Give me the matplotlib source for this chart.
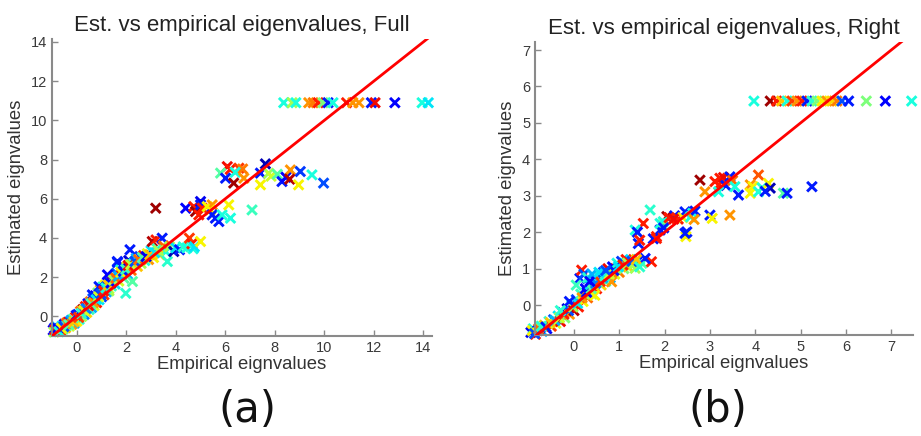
import numpy as np
import matplotlib
matplotlib.use("Agg")
import matplotlib.pyplot as plt

# panel (a): full model -- empirical vs estimated eigenvalues, colour = jet index
full_emp = [
    8.36, 8.70, 8.85, 9.37, 9.55, 9.75, 9.95, 10.15, 10.35, 10.90, 11.15, 11.40, 11.90, 12.05, 12.85, 13.95, 14.20,
    6.08, 6.20, 6.55, 6.70, 5.81, 6.01, 6.34, 6.40, 6.75, 7.62, 7.42, 7.42, 7.75, 7.85, 8.10, 8.29, 8.45, 8.63, 8.60,
    8.96, 9.03, 9.50, 9.97,
    3.19, 4.40, 4.73, 4.80, 5.00, 5.00, 5.07, 4.93, 5.27, 5.47, 5.40, 5.47, 5.60, 5.74, 5.87, 6.14, 6.21, 7.08,
    -0.95, -0.90, -0.85, -0.80, -0.75, -0.70, -0.65, -0.60, -0.55, -0.50, -0.45, -0.40, -0.35, -0.30, -0.25, -0.20,
    -0.15, -0.10, -0.05, 0.00, 0.05, 0.10, 0.15, 0.20, 0.25, 0.30, 0.35, 0.40, 0.45, 0.50, 0.55, 0.60, 0.65, 0.70,
    0.75, 0.80, 0.85, 0.90, 0.95, 1.00, 1.05, 1.10, 1.15, 1.20, 1.25, 1.30, 1.35, 1.40, 1.50, 1.55, 1.60, 1.65,
    1.70, 1.75, 1.80, 1.85, 1.90, 2.00, 2.05, 2.10, 2.15, 2.20, 2.25, 2.30, 2.40, 2.45, 2.55, 2.60, 2.70, 2.75,
    2.85, 2.90, 3.00, 3.05, 3.10, 3.20, 3.25, 3.35, 3.45, 3.50, 3.60, 3.66, 3.75, 3.92, 4.00, 4.15, 4.30, 4.45,
    4.55, 4.65, 4.70, 4.75, 5.00, 1.98, 1.30, 0.90, 0.63, 1.64, 1.24,
    -0.92, -0.88, -0.78, -0.72, -0.62, -0.52, -0.42, -0.32, -0.22, -0.12, -0.02, 0.08, 0.18, 0.28, 0.38, 0.48,
    0.58, 0.68, 0.78, 0.88, 0.98, 1.08, 1.18, 1.28, 1.38, 1.48, 1.58, 1.68, 1.78, 1.88, 1.98, 2.08, 2.18, 2.35,
    2.50, 2.65, 2.80, 2.95, 3.15, 3.30,
]
full_est = [
    10.9, 10.9, 10.9, 10.9, 10.9, 10.9, 10.9, 10.9, 10.9, 10.9, 10.9, 10.9, 10.9, 10.9, 10.9, 10.9, 10.9,
    7.64, 7.50, 7.56, 7.52, 7.31, 7.05, 6.80, 7.35, 7.05, 7.78, 7.31, 6.71, 7.30, 7.15, 7.25, 6.88, 7.10, 7.47, 7.00,
    6.71, 7.39, 7.22, 6.80,
    5.52, 5.52, 5.60, 5.35, 5.86, 5.69, 5.52, 5.18, 5.60, 5.69, 5.43, 5.18, 5.01, 4.84, 5.18, 5.69, 5.01, 5.43,
    -0.70, -0.60, -0.75, -0.55, -0.70, -0.62, -0.72, -0.50, -0.65, -0.40, -0.58, -0.45, -0.30, -0.50, -0.25, -0.40,
    -0.15, -0.35, -0.05, -0.25, 0.10, -0.15, 0.25, 0.00, 0.35, 0.10, 0.50, 0.20, 0.65, 0.35, 0.75, 0.45, 0.90, 0.55,
    1.05, 0.70, 1.20, 0.85, 1.35, 1.00, 1.50, 1.10, 1.60, 1.25, 1.75, 1.40, 1.90, 1.55, 2.05, 1.65, 2.20, 2.75,
    1.80, 2.40, 2.10, 2.60, 1.95, 2.50, 2.15, 2.85, 3.40, 2.35, 1.78, 2.70, 2.95, 2.55, 3.05, 2.70, 3.10, 2.85,
    3.20, 2.90, 3.35, 3.82, 3.00, 3.90, 3.45, 3.15, 3.99, 3.60, 3.30, 2.80, 3.55, 3.31, 3.50, 3.40, 3.55, 3.50,
    3.99, 3.70, 3.45, 3.55, 3.82, 1.18, 1.30, 1.52, 1.10, 2.80, 2.12,
    -0.80, -0.68, -0.62, -0.78, -0.60, -0.52, -0.35, -0.42, -0.20, -0.28, 0.05, -0.05, 0.15, 0.30, 0.40, 0.55,
    0.65, 0.70, 0.85, 1.00, 1.15, 1.30, 1.45, 1.60, 1.70, 1.85, 1.95, 2.05, 2.25, 2.30, 2.40, 2.60, 2.65, 2.80,
    2.90, 3.00, 3.05, 3.15, 3.25, 3.35,
]
full_col = [
    0.38, 0.55, 0.38, 0.75, 0.78, 0.88, 0.50, 0.15, 0.38, 0.88, 0.75, 0.75, 0.15, 0.90, 0.12, 0.38, 0.35,
    0.90, 0.88, 0.85, 0.78, 0.45, 0.15, 0.97, 0.38, 0.75, 0.05, 0.15, 0.65, 0.55, 0.60, 0.45, 0.15, 0.12, 0.75, 0.95,
    0.65, 0.18, 0.38, 0.20,
    0.97, 0.12, 0.88, 0.97, 0.10, 0.15, 0.88, 0.88, 0.65, 0.75, 0.65, 0.15, 0.15, 0.15, 0.38, 0.65, 0.38, 0.42,
    0.10, 0.15, 0.40, 0.30, 0.65, 0.20, 0.85, 0.35, 0.50, 0.12, 0.70, 0.38, 0.90, 0.60, 0.20, 0.75,
    0.45, 0.30, 0.88, 0.65, 0.15, 0.40, 0.80, 0.55, 0.95, 0.25, 0.88, 0.68, 0.12, 0.42, 0.78, 0.30, 0.20, 0.62,
    0.10, 0.88, 0.50, 0.35, 0.72, 0.18, 0.40, 0.85, 0.65, 0.30, 0.15, 0.58, 0.90, 0.42, 0.70, 0.35, 0.20, 0.15,
    0.60, 0.38, 0.88, 0.12, 0.45, 0.65, 0.30, 0.08, 0.15, 0.80, 0.45, 0.40, 0.30, 0.70, 0.18, 0.55, 0.88, 0.38,
    0.62, 0.75, 0.35, 0.95, 0.65, 0.88, 0.42, 0.68, 0.15, 0.80, 0.38, 0.40, 0.55, 0.05, 0.35, 0.15, 0.40, 0.38,
    0.85, 0.88, 0.38, 0.35, 0.65, 0.40, 0.55, 0.15, 0.15, 0.15, 0.12,
    0.55, 0.88, 0.12, 0.38, 0.65, 0.20, 0.80, 0.45, 0.30, 0.70, 0.15, 0.85, 0.40, 0.62, 0.25, 0.90,
    0.45, 0.75, 0.35, 0.60, 0.20, 0.88, 0.38, 0.70, 0.12, 0.55, 0.80, 0.30, 0.65, 0.15, 0.42, 0.90, 0.58, 0.20,
    0.80, 0.45, 0.10, 0.70, 0.35, 0.55,
]

# panel (b): right model
right_emp = [
    3.97, 4.33, 4.47, 4.58, 4.70, 4.81, 4.92, 5.03, 5.14, 5.25, 5.36, 5.47, 5.58, 5.69, 5.80, 5.91, 6.06, 6.45, 6.87, 7.45,
    2.78, 2.89, 3.11, 3.22, 3.30, 3.44, 3.20, 3.35, 3.50, 3.55, 3.63, 3.19, 4.07, 3.89, 3.95, 3.89, 4.07, 4.15, 4.29,
    4.33, 4.22, 4.62, 4.70, 5.25,
    1.68, 2.05, 2.10, 2.22, 2.30, 2.45, 2.40, 2.57, 2.62, 2.67, 2.65, 3.00, 3.05, 3.44, 2.49, 2.47, 1.97, 1.95, 1.90,
    1.82, 1.75,
    1.53, 1.35, 1.40, 1.42, 1.45, 1.82, 1.90, 1.98, 2.10, 2.20, 2.45,
    -0.95, -0.90, -0.85, -0.80, -0.75, -0.70, -0.65, -0.60, -0.55, -0.50, -0.45, -0.40, -0.35, -0.30, -0.25, -0.20,
    -0.15, -0.10, -0.05, 0.00, 0.05, 0.10, 0.15, 0.20, 0.25, 0.30, 0.35, 0.40, 0.45, 0.50, 0.55, 0.60, 0.65, 0.70,
    0.75, 0.80, 0.85, 0.90, 0.95, 1.00, 1.05, 1.10, 1.15, 1.20, 1.25, 1.30, 1.40, 1.50, 1.71, 1.57, 1.35, 0.83,
    0.46, 0.13, 0.17, 0.22, 0.30, 0.40,
    -0.92, -0.87, -0.78, -0.72, -0.62, -0.52, -0.42, -0.32, -0.22, -0.12, -0.02, 0.08, 0.18, 0.28, 0.38, 0.48,
    0.58, 0.68, 0.78, 0.88, 0.98, 1.08, 1.18, 1.28, 1.38, 1.45, 0.35, 0.55, 0.70, 0.05, -0.10, -0.30,
]
right_est = [
    5.6, 5.6, 5.6, 5.6, 5.6, 5.6, 5.6, 5.6, 5.6, 5.6, 5.6, 5.6, 5.6, 5.6, 5.6, 5.6, 5.6, 5.6, 5.6, 5.6,
    3.43, 3.11, 3.39, 3.48, 3.50, 3.52, 3.30, 3.28, 3.42, 3.25, 3.02, 3.11, 3.57, 3.30, 3.25, 3.07, 3.11, 3.22, 3.34,
    3.21, 3.12, 3.07, 3.07, 3.25,
    2.61, 2.43, 2.38, 2.45, 2.36, 2.56, 2.40, 2.42, 2.52, 2.58, 2.35, 2.47, 2.38, 2.47, 2.01, 1.88, 2.29, 2.20, 2.06,
    1.88, 1.82,
    2.24, 2.06, 2.00, 1.69, 1.78, 1.83, 2.24, 2.12, 2.40, 2.36, 1.97,
    -0.75, -0.65, -0.80, -0.70, -0.60, -0.72, -0.55, -0.65, -0.45, -0.58, -0.40, -0.50, -0.30, -0.45, -0.20, -0.35,
    -0.10, -0.25, 0.00, -0.15, 0.15, -0.05, 0.30, 0.10, 0.45, 0.20, 0.55, 0.30, 0.70, 0.45, 0.80, 0.55, 0.90, 0.65,
    1.00, 0.75, 1.05, 0.85, 1.15, 0.90, 1.20, 1.00, 1.25, 1.05, 1.25, 1.10, 1.20, 1.15, 1.19, 1.28, 1.01, 0.64,
    0.27, 0.73, 0.96, 0.85, 0.75, 0.85,
    -0.70, -0.78, -0.65, -0.58, -0.60, -0.48, -0.42, -0.35, -0.25, -0.15, -0.05, 0.05, 0.20, 0.35, 0.45, 0.60,
    0.65, 0.80, 0.85, 0.95, 1.05, 1.10, 1.15, 1.20, 1.25, 1.05, 0.65, 0.90, 0.95, 0.55, 0.10, -0.15,
]
right_col = [
    0.38, 0.97, 0.88, 0.70, 0.38, 0.85, 0.75, 0.88, 0.15, 0.40, 0.50, 0.65, 0.75, 0.68, 0.78, 0.20, 0.15, 0.50, 0.12, 0.38,
    0.97, 0.75, 0.88, 0.88, 0.90, 0.15, 0.88, 0.15, 0.80, 0.38, 0.15, 0.38, 0.82, 0.75, 0.65, 0.65, 0.38, 0.40, 0.65,
    0.05, 0.15, 0.45, 0.15, 0.15,
    0.40, 0.97, 0.88, 0.15, 0.88, 0.15, 0.65, 0.38, 0.38, 0.15, 0.75, 0.15, 0.65, 0.75, 0.15, 0.65, 0.40, 0.50, 0.15,
    0.88, 0.15,
    0.88, 0.38, 0.15, 0.15, 0.88, 0.88, 0.38, 0.15, 0.88, 0.90, 0.15,
    0.10, 0.40, 0.88, 0.15, 0.55, 0.30, 0.70, 0.12, 0.40, 0.85, 0.20, 0.62, 0.35, 0.90, 0.15, 0.50,
    0.08, 0.75, 0.38, 0.95, 0.20, 0.88, 0.42, 0.65, 0.12, 0.80, 0.35, 0.55, 0.15, 0.88, 0.40, 0.68, 0.20, 0.45,
    0.90, 0.30, 0.12, 0.62, 0.38, 0.78, 0.18, 0.50, 0.88, 0.70, 0.35, 0.60, 0.15, 0.45, 0.88, 0.15, 0.55, 0.75,
    0.65, 0.15, 0.88, 0.20, 0.40, 0.30,
    0.65, 0.20, 0.80, 0.40, 0.15, 0.70, 0.30, 0.60, 0.88, 0.20, 0.55, 0.35, 0.75, 0.12, 0.45, 0.25,
    0.85, 0.40, 0.60, 0.15, 0.35, 0.88, 0.55, 0.20, 0.70, 0.40, 0.12, 0.35, 0.20, 0.42, 0.15, 0.40,
]

titles = ["Est. vs empirical eigenvalues, Full", "Est. vs empirical eigenvalues, Right"]
panel_tags = ["(a)", "(b)"]
x_ticks = [[0, 2, 4, 6, 8, 10, 12, 14], [0, 1, 2, 3, 4, 5, 6, 7]]
y_ticks = [[0, 2, 4, 6, 8, 10, 12, 14], [0, 1, 2, 3, 4, 5, 6, 7]]
x_lims = [(-1.0, 14.35), (-0.86, 7.48)]
y_lims = [(-1.0, 14.15), (-0.82, 7.22)]

LABEL_FONT = ["Liberation Sans", "DejaVu Sans"]
AXIS_GRAY = "#8a8a8a"

fig = plt.figure(figsize=(9.21, 4.36), dpi=100)
boxes = [
    [52 / 921, 1 - 336 / 436, (432 - 52) / 921, (336 - 39) / 436],
    [535 / 921, 1 - 335 / 436, (913 - 535) / 921, (335 - 42) / 436],
]
data = [(full_emp, full_est, full_col), (right_emp, right_est, right_col)]
tag_x = [247 / 921, 718 / 921]

for i in range(2):
    ax = fig.add_axes(boxes[i])
    emp, est, col = data[i]
    ax.scatter(emp, est, c=col, cmap="jet", vmin=0, vmax=1, marker="x",
               s=48, linewidths=2.1, zorder=2, clip_on=False)
    lo = min(min(emp), min(est))
    hi = max(emp)
    ax.plot([lo, hi], [lo, hi], color="red", lw=2, zorder=3)

    ax.set_xlim(*x_lims[i])
    ax.set_ylim(*y_lims[i])
    ax.set_xticks(x_ticks[i])
    ax.set_yticks(y_ticks[i])
    for side in ["top", "right"]:
        ax.spines[side].set_visible(False)
    for side in ["left", "bottom"]:
        ax.spines[side].set_color(AXIS_GRAY)
        ax.spines[side].set_linewidth(1.5)
    ax.tick_params(direction="in", length=4, width=1, color=AXIS_GRAY,
                   labelcolor="#3a3a3a", labelsize=10.5)
    for lab in ax.get_xticklabels() + ax.get_yticklabels():
        lab.set_family(LABEL_FONT)

    ax.set_title(titles[i], fontsize=16, family=LABEL_FONT, color="#222222", pad=6)
    ax.set_xlabel("Empirical eignvalues", fontsize=13.3, family=LABEL_FONT, color="#333333", labelpad=1)
    ax.set_ylabel("Estimated eignvalues", fontsize=13.3, family=LABEL_FONT, color="#333333", labelpad=4)

    fig.text(tag_x[i], 1 - 410 / 436, panel_tags[i], fontsize=30, family="DejaVu Sans",
             ha="center", va="center", color="#111111")

fig.savefig("out.png", dpi=100, facecolor="white")
